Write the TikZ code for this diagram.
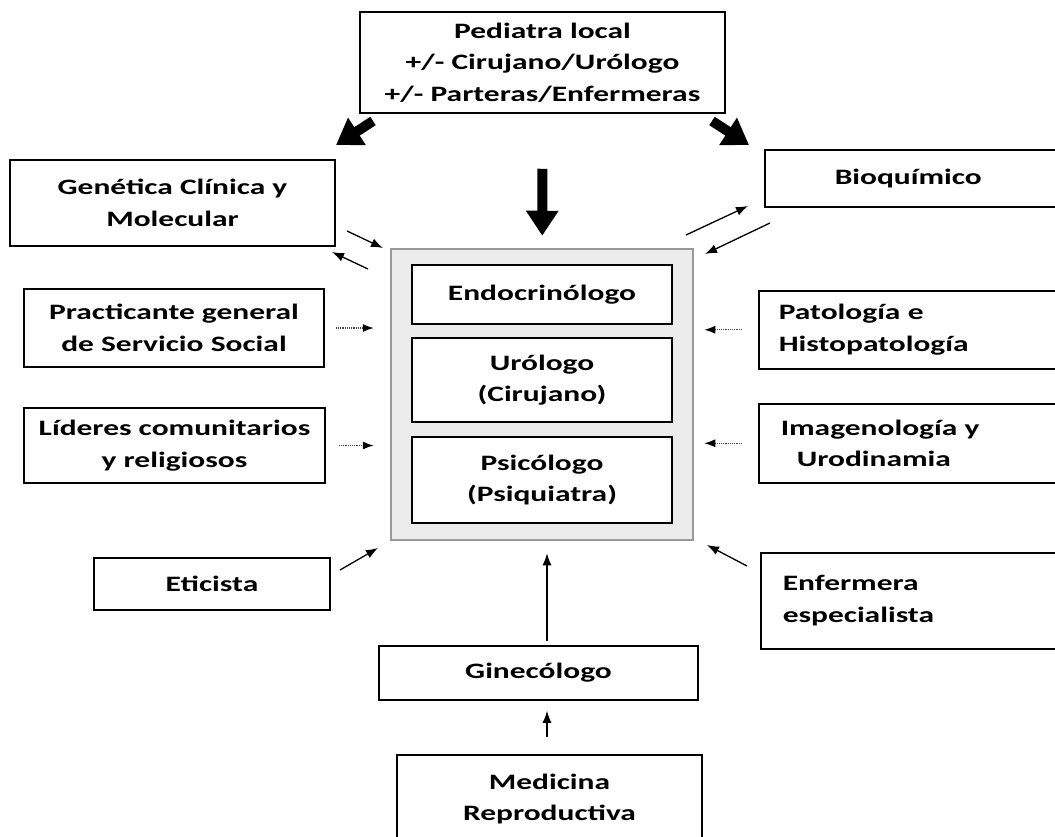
\documentclass[tikz,border=0pt]{standalone}
\usepackage{fontspec}
\setmainfont{Carlito}[FakeStretch=1.43]
\usetikzlibrary{arrows.meta}

\begin{document}
\begin{tikzpicture}[x=1pt, y=-1pt, font=\fontsize{22}{31.5}\selectfont\bfseries,
  box/.style={draw, fill=white, line width=1.5pt, align=center, inner sep=0pt},
  rbox/.style={box, anchor=north west, text width=270pt, align=left, inner xsep=20pt},
  thin/.style={line width=1.3pt, -{Latex[length=12pt,width=9pt]}},
  dots/.style={line width=1.2pt, densely dotted, gray!55!black, -{Latex[length=11pt,width=8pt,black]}},
  fat/.style={line width=10pt, -{Triangle[length=25pt,width=31pt]}}]
\useasboundingbox (0,0) rectangle (1055,836);

% left column
\node[box, minimum width=365, minimum height=101] (ped) at (542.5,62.5) {Pediatra local\\+/- Cirujano/Urólogo\\+/- Parteras/Enfermeras};
\node[box, minimum width=325, minimum height=86] (gen) at (172.5,203) {Genética Clínica y\\Molecular};
\node[box, minimum width=300, minimum height=78] (prac) at (174,328) {Practicante general\\de Servicio Social};
\node[box, minimum width=301, minimum height=75] (lid) at (174.5,445.5) {Líderes comunitarios\\y religiosos};
\node[box, minimum width=236, minimum height=52] (etic) at (212,584) {Eticista};

% team in the middle
\node[draw=gray!80, fill=gray!15, line width=2.5pt, minimum width=302, minimum height=291] (team) at (542,394.5) {};
\node[box, minimum width=260, minimum height=59] (endo) at (542,294.5) {Endocrinólogo};
\node[box, minimum width=260, minimum height=84] (uro) at (542,380) {Urólogo\\(Cirujano)};
\node[box, minimum width=260, minimum height=86] (psic) at (542,480) {Psicólogo\\(Psiquiatra)};

% right column (runs off the page)
\node[rbox, minimum height=57] (bio) at (764,149) {\hspace*{50pt}Bioquímico};
\node[rbox, minimum height=78] (pat) at (758,290) {Patología e\\Histopatología};
\node[rbox, minimum height=79] (img) at (758,403) {\hspace*{2pt}Imagenología y\\\hspace*{18pt}Urodinamia};
\node[rbox, minimum height=96] (enf) at (760,552) {\hspace*{2pt}Enfermera\\\hspace*{2pt}especialista};

% bottom
\node[box, minimum width=319, minimum height=54] (gin) at (538.5,673) {Ginecólogo};
\node[box, anchor=north, minimum width=305, minimum height=88] (med) at (549.5,754) {Medicina\\Reproductiva};

% free arrow ends
\coordinate (pl1) at (373,121); \coordinate (pl2) at (336,145);
\coordinate (pr1) at (712,121); \coordinate (pr2) at (749,145);
\coordinate (gi1) at (347,231); \coordinate (gi2) at (383,248);
\coordinate (go1) at (368,269); \coordinate (go2) at (332,252);
\coordinate (bo1) at (686,235); \coordinate (bo2) at (748,206);
\coordinate (bi1) at (770,223); \coordinate (bi2) at (705,254);
\coordinate (et1) at (340,570); \coordinate (et2) at (378,548);
\coordinate (en1) at (747,566); \coordinate (en2) at (707,545);

\foreach \from/\to in {pl1/pl2, pr1/pr2}
\draw [fat] (\from) -- (\to);
\draw [fat, shorten <=55pt, shorten >=12pt] (ped) -- (team);
\foreach \from/\to in {gi1/gi2, go1/go2, bo1/bo2, bi1/bi2, et1/et2, en1/en2}
\draw [thin] (\from) -- (\to);
\draw [thin, shorten <=4pt, shorten >=12pt] ([xshift=8.5pt]gin.north) -- ([xshift=8.5pt]gin.north |- team.south);
\draw [thin, shorten <=17pt, shorten >=10pt] ([xshift=-2.5pt]med.north) -- ([xshift=-2.5pt]med.north |- gin.south);
\draw [dots, shorten <=11pt, shorten >=16pt] (prac.east) -- (prac.east -| team.west);
\draw [dots, shorten <=13pt, shorten >=16pt] (lid.east) -- (lid.east -| team.west);
\draw [dots, shorten <=16pt, shorten >=10pt] (pat.west) -- (pat.west -| team.east);
\draw [dots, shorten <=16pt, shorten >=10pt] (img.west) -- (img.west -| team.east);
\end{tikzpicture}
\end{document}
